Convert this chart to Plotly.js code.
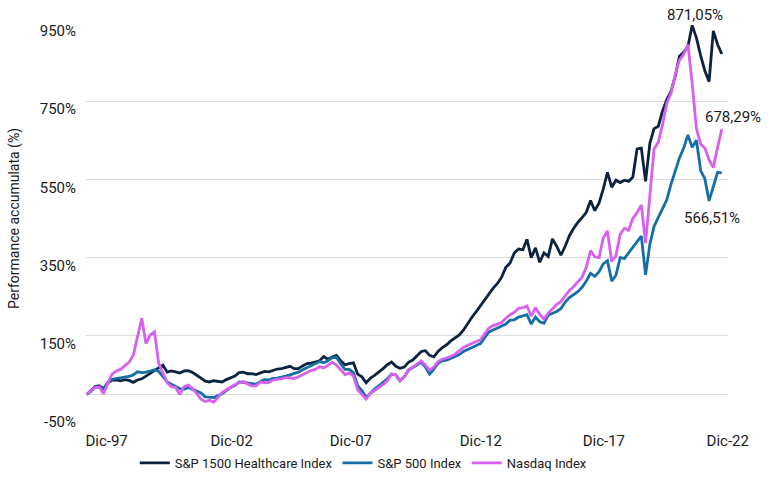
<!DOCTYPE html>
<html>
<head>
<meta charset="utf-8">
<script src="https://cdn.plot.ly/plotly-3.0.1.min.js"></script>
<style>html,body{margin:0;padding:0;background:#fff;}#chart{width:768px;height:484px;}</style>
</head>
<body>
<div id="chart"></div>
<script>
// Bimonthly observations from Dec-1997 to Dec-2022 (151 points)
const startYear = 1997, startMonth = 12, stepMonths = 2, nPoints = 151;

const healthcare = [
  0,10,20,22,15,30,37,37,35,38,
  36,31,37,40,47,56,61,68,75,57,
  60,58,55,60,61,56,50,42,34,32,
  35,33,32,38,42,47,56,57,53,53,
  51,55,59,58,61,65,66,69,72,66,
  66,73,79,80,83,86,97,90,96,100,
  86,76,79,81,52,45,30,42,49,57,
  66,76,83,72,67,70,82,88,98,110,
  112,100,96,110,120,127,137,144,152,165,
  182,198,212,227,245,260,272,284,300,325,
  336,362,372,370,397,350,375,338,362,353,
  398,379,356,379,406,425,440,452,466,496,
  470,490,525,568,530,548,542,548,545,556,
  628,630,545,643,680,686,725,754,775,815,
  865,875,890,944,912,866,828,800,930,895,
  871.05
];

const sp500 = [
  0,8,18,20,13,30,39,41,42,44,
  46,50,58,56,57,60,63,59,47,32,
  26,21,15,13,18,13,8,4,-6,-7,
  -8,-3,2,10,18,23,32,31,29,27,
  26,33,38,37,41,42,44,47,50,54,
  57,63,68,74,79,84,81,86,94,95,
  78,64,64,56,22,10,-8,3,14,22,
  30,40,52,50,35,45,62,68,75,82,
  70,52,65,80,86,88,92,96,102,110,
  116,120,125,130,145,160,165,170,173,180,
  190,191,198,202,204,180,198,186,182,203,
  207,212,220,236,248,255,263,274,290,310,
  302,314,334,342,290,305,350,348,362,375,
  390,405,306,385,430,452,472,498,538,572,
  605,630,664,632,650,572,552,495,532,568,
  566.51
];

const nasdaq = [
  0,10,18,19,2,30,52,60,64,73,
  82,100,150,195,130,152,160,80,55,30,
  20,18,0,20,24,15,2,-12,-18,-15,
  -20,-8,5,12,19,25,30,33,27,22,
  22,32,30,31,37,38,40,43,43,40,
  45,52,57,61,64,71,68,74,82,75,
  62,51,55,47,12,0,-12,3,10,18,
  25,35,52,50,35,45,63,70,78,86,
  75,62,70,84,90,93,97,103,112,120,
  126,131,136,140,155,170,176,180,184,195,
  204,210,220,222,226,200,222,205,193,208,
  220,230,238,252,266,276,288,300,326,368,
  352,350,400,418,340,355,410,425,420,450,
  465,485,387,500,628,645,690,745,770,820,
  855,870,895,795,680,640,630,600,580,632,
  678.29
];

const seriesNames = ['S&P 1500 Healthcare Index', 'S&P 500 Index', 'Nasdaq Index'];
const seriesColors = ['#0c2340', '#156fa5', '#d760f0'];

const yTickVals = [-50, 150, 350, 550, 750, 950];
const yTickText = ['-50%', '150%', '350%', '550%', '750%', '950%'];
const xTickVals = ['1998-09-13', '2003-08-16', '2008-04-25', '2013-06-07', '2018-04-10', '2023-02-24'];
const xTickText = ['Dic-97', 'Dic-02', 'Dic-07', 'Dic-12', 'Dic-17', 'Dic-22'];

const endLabels = ['871,05%', '678,29%', '566,51%'];

function buildDates() {
  const out = [];
  let y = startYear, m = startMonth;
  for (let i = 0; i < nPoints; i++) {
    out.push(y + '-' + String(m).padStart(2, '0') + '-01');
    m += stepMonths;
    while (m > 12) { m -= 12; y += 1; }
  }
  return out;
}
const dates = buildDates();

const FONT = 'Roboto, Arial, sans-serif';
const dataSets = [healthcare, sp500, nasdaq];
const traces = dataSets.map((vals, i) => ({
  type: 'scatter', mode: 'lines', x: dates, y: vals, name: seriesNames[i],
  line: {color: seriesColors[i], width: 2.8}
}));

const layout = {
  width: 768, height: 484,
  margin: {l: 86, r: 40, t: 23, b: 70, autoexpand: false},
  paper_bgcolor: '#ffffff', plot_bgcolor: '#ffffff',
  font: {family: FONT, color: '#1a1a1a', size: 15},
  xaxis: {
    type: 'date', range: ['1997-11-21', '2023-02-28'], automargin: false,
    tickmode: 'array', tickvals: xTickVals, ticktext: xTickText,
    showgrid: false, zeroline: false, showline: false, ticks: '',
    tickfont: {size: 15}, ticklabelstandoff: 16
  },
  yaxis: {
    range: [-50, 950], tickmode: 'array', tickvals: yTickVals, ticktext: yTickText,
    automargin: false,
    showgrid: true, gridcolor: '#dcdcdc', gridwidth: 1.2,
    zeroline: true, zerolinecolor: '#dcdcdc', zerolinewidth: 1.2,
    showline: false, ticks: '', tickfont: {size: 15},
    ticklabelshift: 8, ticklabelstandoff: 9,
    title: {text: 'Performance accumulata (%)', font: {size: 14}, standoff: 16}
  },
  showlegend: true,
  legend: {
    orientation: 'h', x: 0.076, xanchor: 'left', y: -0.125, yanchor: 'middle',
    font: {size: 13}, bgcolor: 'rgba(0,0,0,0)'
  },
  annotations: [
    {xref: 'paper', yref: 'paper', x: 0.9486, y: 1.021, xanchor: 'center', yanchor: 'middle', text: endLabels[0], showarrow: false, font: {size: 15}},
    {xref: 'paper', yref: 'paper', x: 1.0078, y: 0.760, xanchor: 'center', yanchor: 'middle', text: endLabels[1], showarrow: false, font: {size: 15}},
    {xref: 'paper', yref: 'paper', x: 0.9746, y: 0.502, xanchor: 'center', yanchor: 'middle', text: endLabels[2], showarrow: false, font: {size: 15}}
  ]
};

Plotly.newPlot('chart', traces, layout, {displayModeBar: false, staticPlot: true});
</script>
</body>
</html>
